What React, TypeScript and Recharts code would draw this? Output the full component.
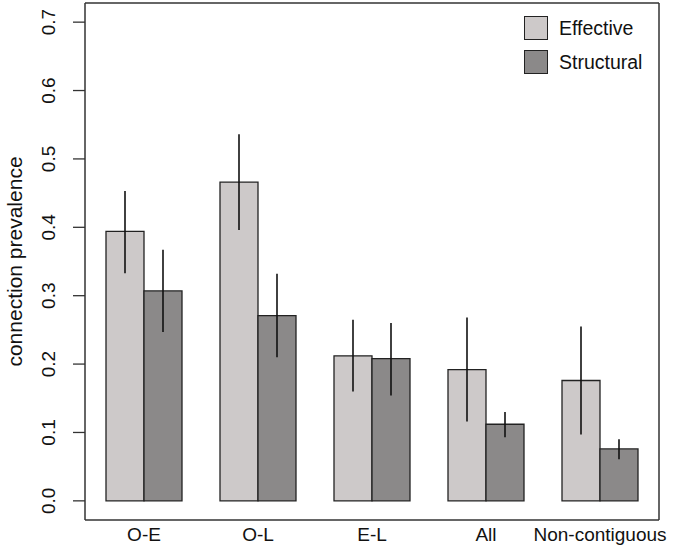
import React from 'react';
import { BarChart, Bar, XAxis, YAxis, ErrorBar, Legend, Label } from 'recharts';

const categories = ['O-E', 'O-L', 'E-L', 'All', 'Non-contiguous'];
const effective = [0.394, 0.466, 0.212, 0.192, 0.176];
const effectiveLow = [0.333, 0.396, 0.160, 0.116, 0.097];
const effectiveHigh = [0.453, 0.536, 0.265, 0.268, 0.255];
const structural = [0.307, 0.271, 0.208, 0.112, 0.076];
const structuralLow = [0.247, 0.210, 0.154, 0.093, 0.061];
const structuralHigh = [0.367, 0.332, 0.260, 0.130, 0.090];
const yTicks = [0, 0.1, 0.2, 0.3, 0.4, 0.5, 0.6, 0.7];

const data = categories.map((c, i) => ({
  cat: c,
  effective: effective[i],
  effErr: [effective[i] - effectiveLow[i], effectiveHigh[i] - effective[i]],
  structural: structural[i],
  strErr: [structural[i] - structuralLow[i], structuralHigh[i] - structural[i]],
}));

const FONT = '"Liberation Sans", Arial, Helvetica, sans-serif';
const EFF_COLOR = '#cdc9c9';
const STR_COLOR = '#8b8989';
const LINE = '#333333';

const YTick = (props: any) => {
  const { x, y, payload } = props;
  const bx = x - 18;
  return (
    <text
      x={bx}
      y={y}
      transform={`rotate(-90, ${bx}, ${y})`}
      textAnchor="middle"
      fontFamily={FONT}
      fontSize={19}
      fill="#111"
    >
      {payload.value.toFixed(1)}
    </text>
  );
};

const XTick = (props: any) => {
  const { x, y, payload } = props;
  return (
    <text x={x} y={y + 21} textAnchor="middle" fontFamily={FONT} fontSize={19} fill="#111">
      {payload.value}
    </text>
  );
};

const LegendContent = () => {
  const items = [
    { name: 'Effective', color: EFF_COLOR },
    { name: 'Structural', color: STR_COLOR },
  ];
  return (
    <div style={{ fontFamily: FONT, fontSize: 19.5, color: '#111' }}>
      {items.map((it) => (
        <div key={it.name} style={{ display: 'flex', alignItems: 'center', height: 34 }}>
          <div
            style={{
              width: 22,
              height: 22,
              background: it.color,
              border: '1.5px solid #222',
              marginRight: 11,
              boxSizing: 'content-box',
            }}
          />
          <span>{it.name}</span>
        </div>
      ))}
    </div>
  );
};

export default function App() {
  return (
    <div style={{ position: 'absolute', left: 0, top: 0, width: 673, height: 547, background: '#fff', overflow: 'hidden' }}>
      <BarChart
        width={673}
        height={547}
        data={data}
        margin={{ top: 2, right: 13, left: 0, bottom: 0 }}
        barGap={0}
        barSize={38}
      >
        <XAxis
          xAxisId="bottom"
          dataKey="cat"
          orientation="bottom"
          height={27}
          padding={{ left: 2, right: 2 }}
          tickLine={false}
          tickSize={0}
          tickMargin={0}
          axisLine={{ stroke: LINE, strokeWidth: 1.5 }}
          tick={<XTick />}
          interval={0}
        />
        <XAxis
          xAxisId="top"
          dataKey="cat"
          orientation="top"
          height={1}
          tick={false}
          tickLine={false}
          axisLine={{ stroke: LINE, strokeWidth: 1.5 }}
        />
        <YAxis
          yAxisId="left"
          type="number"
          domain={[-0.028, 0.728]}
          allowDataOverflow
          ticks={yTicks}
          width={85}
          tickSize={12}
          tickMargin={0}
          tickLine={{ stroke: LINE, strokeWidth: 1.3 }}
          axisLine={{ stroke: LINE, strokeWidth: 1.5 }}
          tick={<YTick />}
          interval={0}
        >
          <Label
            content={(p: any) => {
              const vb = p.viewBox || { x: 0, y: 3, width: 85, height: 517 };
              const cy = vb.y + vb.height / 2;
              const cx = 22;
              return (
                <text
                  x={cx}
                  y={cy}
                  transform={`rotate(-90, ${cx}, ${cy})`}
                  textAnchor="middle"
                  fontFamily={FONT}
                  fontSize={21}
                  fill="#111"
                >
                  connection prevalence
                </text>
              );
            }}
          />
        </YAxis>
        <YAxis
          yAxisId="right"
          orientation="right"
          type="number"
          domain={[-0.028, 0.728]}
          width={1}
          tick={false}
          tickLine={false}
          axisLine={{ stroke: LINE, strokeWidth: 1.5 }}
        />
        <Legend
          layout="horizontal"
          verticalAlign="middle"
          align="center"
          content={<LegendContent />}
          wrapperStyle={{ position: 'absolute', left: 524, top: 11, width: 140, height: 70 }}
        />
        <Bar
          xAxisId="bottom"
          yAxisId="left"
          dataKey="effective"
          fill={EFF_COLOR}
          stroke="#222"
          strokeWidth={1.3}
          isAnimationActive={false}
        >
          <ErrorBar dataKey="effErr" width={0} stroke="#111" strokeWidth={1.6} direction="y" />
        </Bar>
        <Bar
          xAxisId="bottom"
          yAxisId="left"
          dataKey="structural"
          fill={STR_COLOR}
          stroke="#222"
          strokeWidth={1.3}
          isAnimationActive={false}
        >
          <ErrorBar dataKey="strErr" width={0} stroke="#111" strokeWidth={1.6} direction="y" />
        </Bar>
      </BarChart>
    </div>
  );
}
